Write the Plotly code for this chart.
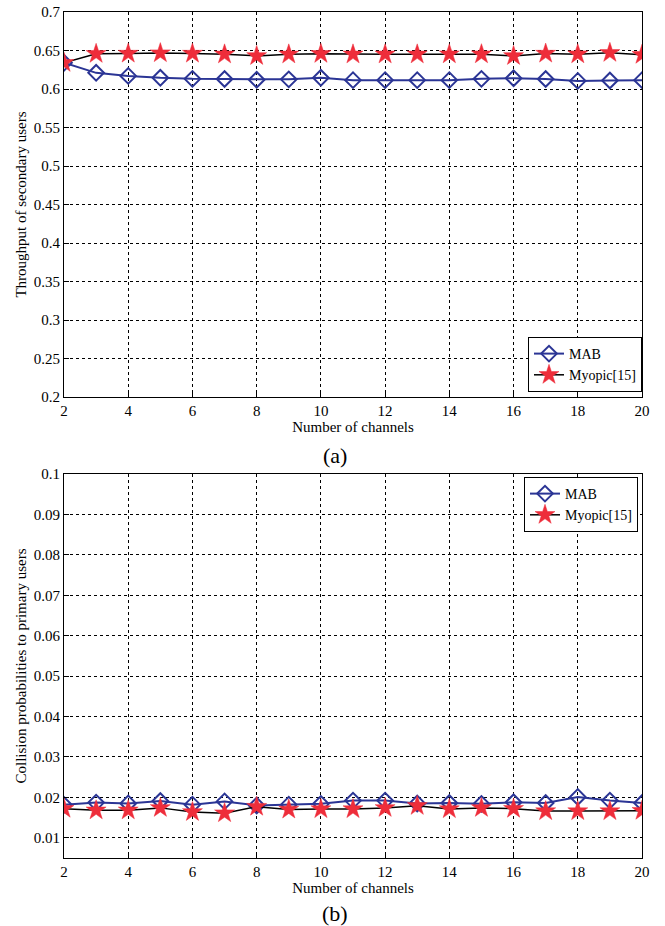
import plotly.graph_objects as go

channels = list(range(2, 21))

mab_throughput = [0.634, 0.621, 0.617, 0.6145, 0.6132, 0.613, 0.612, 0.6125, 0.6145, 0.6115,
                  0.6115, 0.6115, 0.6115, 0.6132, 0.614, 0.613, 0.6105, 0.611, 0.6115]
myopic_throughput = [0.634, 0.6457, 0.646, 0.6466, 0.646, 0.645, 0.643, 0.645, 0.6457, 0.645,
                     0.645, 0.645, 0.6452, 0.6452, 0.643, 0.646, 0.6452, 0.647, 0.6445]

mab_collision = [0.01815, 0.0187, 0.0185, 0.0191, 0.0182, 0.0190, 0.0180, 0.0182, 0.0184, 0.0192,
                 0.0192, 0.0185, 0.0186, 0.0184, 0.0188, 0.0186, 0.0201, 0.0192, 0.0186]
myopic_collision = [0.0172, 0.0168, 0.0168, 0.0174, 0.0164, 0.0161, 0.0177, 0.0170, 0.0171, 0.0171,
                    0.0174, 0.0179, 0.0171, 0.0174, 0.0172, 0.0166, 0.0166, 0.0166, 0.0167]

x_ticks = list(range(2, 21, 2))
top_yticks = [0.2, 0.25, 0.3, 0.35, 0.4, 0.45, 0.5, 0.55, 0.6, 0.65, 0.7]
top_ylabels = ["0.2", "0.25", "0.3", "0.35", "0.4", "0.45", "0.5", "0.55", "0.6", "0.65", "0.7"]
bot_yticks = [0.01, 0.02, 0.03, 0.04, 0.05, 0.06, 0.07, 0.08, 0.09, 0.1]
bot_ylabels = ["0.01", "0.02", "0.03", "0.04", "0.05", "0.06", "0.07", "0.08", "0.09", "0.1"]

BLUE = "#2B3595"
RED = "#EE2D3A"
FONT = "Times New Roman, Liberation Serif, serif"

fig = go.Figure()

def add_pair(mab, myo, xa, ya, leg):
    fig.add_trace(go.Scatter(
        x=channels, y=mab, name="MAB", mode="lines+markers",
        line=dict(color=BLUE, width=2),
        marker=dict(symbol="diamond-open", size=12, color=BLUE, line=dict(width=2, color=BLUE)),
        xaxis=xa, yaxis=ya, legend=leg))
    fig.add_trace(go.Scatter(
        x=channels, y=myo, name="Myopic[15]", mode="lines+markers",
        line=dict(color="black", width=1.5),
        marker=dict(symbol="star", size=15, color=RED, line=dict(width=0.5, color=RED)),
        xaxis=xa, yaxis=ya, legend=leg))

add_pair(mab_throughput, myopic_throughput, "x", "y", "legend")
add_pair(mab_collision, myopic_collision, "x2", "y2", "legend2")

axis_common = dict(
    showline=True, linecolor="black", linewidth=1, mirror=True,
    ticks="inside", ticklen=5, tickcolor="black",
    showgrid=True, gridcolor="black", gridwidth=1, griddash="dot",
    zeroline=False, automargin=False, ticklabeloverflow="allow",
    tickfont=dict(family=FONT, size=15, color="black"),
)

# plot-area pixel geometry
L, R, T, B = 64, 642, 12, 858
H = B - T
top_dom = [1 - (397 - T) / H, 1.0]
bot_dom = [0.0, (B - 474) / H]

xtitle = dict(text="Number of channels", standoff=1, font=dict(family=FONT, size=15))

fig.update_layout(
    width=665, height=926,
    margin=dict(l=L, r=665 - R, t=T, b=926 - B, autoexpand=False),
    paper_bgcolor="white", plot_bgcolor="white",
    font=dict(family=FONT, size=15, color="black"),
    showlegend=True,
    xaxis=dict(domain=[0, 1], range=[2, 20], tickvals=x_ticks, anchor="y", title=xtitle, **axis_common),
    yaxis=dict(domain=top_dom, range=[0.2, 0.7], tickvals=top_yticks, ticktext=top_ylabels, anchor="x",
               title=dict(text="Throughput of secondary users", standoff=3, font=dict(family=FONT, size=15)),
               **axis_common),
    xaxis2=dict(domain=[0, 1], range=[2, 20], tickvals=x_ticks, anchor="y2", title=xtitle, **axis_common),
    yaxis2=dict(domain=bot_dom, range=[0.005, 0.1], tickvals=bot_yticks, ticktext=bot_ylabels, anchor="x2",
                title=dict(text="Collision probabilities to primary users", standoff=3, font=dict(family=FONT, size=15)),
                **axis_common),
    legend=dict(x=1.0, y=(B - 392) / H, xanchor="right", yanchor="bottom",
                bgcolor="white", bordercolor="black", borderwidth=1,
                font=dict(family=FONT, size=14), tracegroupgap=0, itemwidth=30),
    legend2=dict(x=(638 - L) / (R - L), y=(B - 477) / H, xanchor="right", yanchor="top",
                 bgcolor="white", bordercolor="black", borderwidth=1,
                 font=dict(family=FONT, size=14), tracegroupgap=0, itemwidth=30),
    annotations=[
        dict(text="(a)", x=(335 - L) / (R - L), y=(B - 455) / H, xref="paper", yref="paper",
             xanchor="center", yanchor="middle",
             showarrow=False, font=dict(family=FONT, size=22)),
        dict(text="(b)", x=(335 - L) / (R - L), y=(B - 913) / H, xref="paper", yref="paper",
             xanchor="center", yanchor="middle",
             showarrow=False, font=dict(family=FONT, size=22)),
    ],
)

fig.write_html("out.html", config={"displayModeBar": False},
               post_script="document.body.style.margin='0px';")
